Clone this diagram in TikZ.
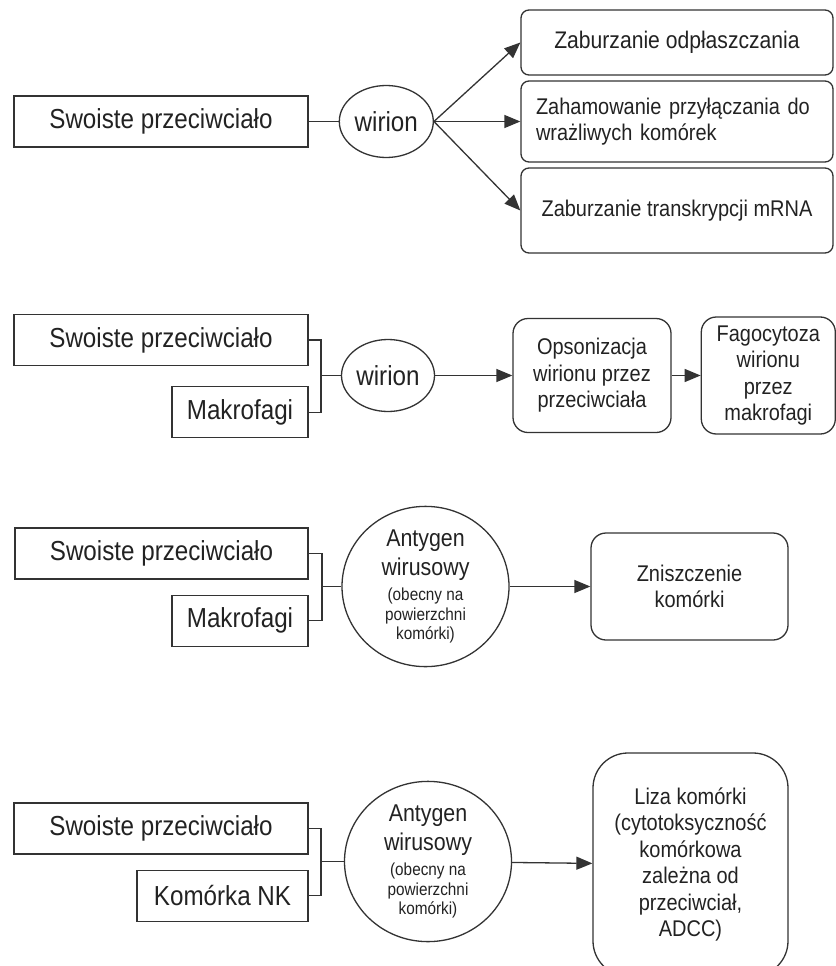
\documentclass[tikz,border=0pt]{standalone}
\usepackage{fontspec}
\setmainfont{Liberation Sans}[FakeStretch=0.88]
\usepackage{tikz}
\usetikzlibrary{arrows.meta,shapes,positioning}
\definecolor{abline}{RGB}{51,51,51}
\definecolor{abtext}{RGB}{34,34,34}
\newcommand{\agentfont}{\fontsize{27.5}{32}\selectfont}
\newcommand{\effectfont}{\fontsize{22.7}{26.4}\selectfont}
\newcommand{\antbigfont}{\fontsize{24.3}{29}\selectfont}
\newcommand{\antsmallfont}{\fontsize{17.4}{20}\selectfont}
\tikzstyle{arrow} = [line width=1.3pt,-{Triangle[length=16pt,width=13pt]},color=abline]
\tikzstyle{link} = [line width=1.3pt,color=abline]
\tikzstyle{agentbox} = [rectangle, draw=abline, line width=1.3pt, minimum height=51pt, inner sep=0pt, text=abtext, font=\agentfont]
\tikzstyle{virusnode} = [ellipse, draw=abline, line width=1.3pt, inner sep=0pt, text=abtext, align=center]
\tikzstyle{effectbox} = [rectangle, rounded corners=15pt, draw=abline, line width=1.3pt, inner sep=0pt, text=abtext, align=center, font=\effectfont]

\begin{document}
\begin{tikzpicture}[x=1pt, y=-1pt]
\useasboundingbox (0,0) rectangle (835,966);

% Neutralization
\node[agentbox, minimum width=294pt] (s1) at (161,121.5) {Swoiste przeciwciało};
\node[virusnode, minimum width=94pt, minimum height=72pt, font=\agentfont, right=30pt of s1] (w1) {wirion};
\node[effectbox, rounded corners=8pt, minimum width=312pt, minimum height=65pt, font=\fontsize{24}{28}\selectfont] (r1a) at (677,42.5) {Zaburzanie odpłaszczania};
\node[effectbox, rounded corners=8pt, minimum width=312pt, minimum height=81pt, text width=282pt, align=left] (r1b) at (677,121.5) {Zahamowanie przyłączania do\\wrażliwych komórek};
\node[effectbox, rounded corners=8pt, minimum width=312pt, minimum height=85pt] (r1c) at (677,210.5) {Zaburzanie transkrypcji mRNA};

\draw[link] (s1) -- (w1);
\draw[arrow] (w1.east) -- (r1a.west);
\draw[arrow] (w1.east) -- (r1b.west);
\draw[arrow] (w1.east) -- (r1c.west);

% Opsonization
\node[agentbox, minimum width=294pt] (s2a) at (161,340) {Swoiste przeciwciało};
\node[agentbox, minimum width=136pt, below left=20pt and 0pt of s2a.south east] (s2b) {Makrofagi};
\coordinate (j2) at (321,375.5);
\node[virusnode, minimum width=93pt, minimum height=72pt, font=\agentfont] (w2) at (388,375.5) {wirion};
\node[effectbox, minimum width=158pt, minimum height=114pt] (o2) at (592,375.5) {Opsonizacja\\wirionu przez\\przeciwciała};
\node[effectbox, minimum width=134pt, minimum height=117pt, right=29pt of o2] (f2) {Fagocytoza\\wirionu\\przez\\makrofagi};

\draw[link] (s2a.east) -| (j2) |- (s2b.east);
\draw[link] (j2) -- (w2);
\draw[arrow] (w2) -- (o2);
\draw[arrow] (o2) -- (f2);

% Cell destruction
\node[agentbox, minimum width=293pt] (s3a) at (161.5,553.5) {Swoiste przeciwciało};
\node[agentbox, minimum width=136pt, below left=15pt and 0pt of s3a.south east] (s3b) {Makrofagi};
\coordinate (j3) at (322,586.5);
\node[virusnode, minimum width=167pt, minimum height=137pt, font=\antbigfont] (a3) at (425.5,586.5) {Antygen\\wirusowy\\[-4pt] \antsmallfont (obecny na\\[-9pt] \antsmallfont powierzchni\\[-10pt] \antsmallfont komórki)};
\node[effectbox, minimum width=197pt, minimum height=107pt] (z3) at (689.5,586.5) {Zniszczenie\\komórki};

\draw[link] (s3a.east) -| (j3) |- (s3b.east);
\draw[link] (j3) -- (a3);
\draw[arrow] (a3) -- (z3);

% ADCC
\node[agentbox, minimum width=294pt] (s4a) at (161,828.5) {Swoiste przeciwciało};
\node[agentbox, minimum width=171pt, below left=15pt and 0pt of s4a.south east] (s4b) {Komórka NK};
\coordinate (j4) at (321,861.5);
\node[virusnode, minimum width=167pt, minimum height=137pt, font=\antbigfont] (a4) at (428,861.5) {Antygen\\wirusowy\\[-4pt] \antsmallfont (obecny na\\[-9pt] \antsmallfont powierzchni\\[-10pt] \antsmallfont komórki)};
\node[effectbox, rounded corners=35pt, minimum width=195pt, minimum height=223pt] (l4) at (690.5,864.5) {Liza komórki\\(cytotoksyczność\\komórkowa\\zależna od\\przeciwciał,\\ADCC)};

\draw[link] (s4a.east) -| (j4) |- (s4b.east);
\draw[link] (j4) -- (a4);
\draw[arrow] (a4) -- (l4);
\end{tikzpicture}
\end{document}
